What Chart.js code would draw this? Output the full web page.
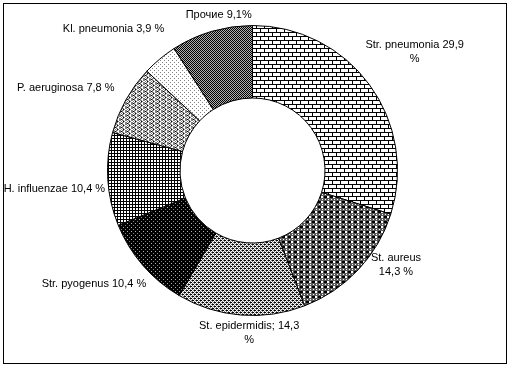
<!DOCTYPE html>
<html>
<head>
<meta charset="utf-8">
<script src="https://cdn.jsdelivr.net/npm/chart.js@4/dist/chart.umd.min.js"></script>
<style>
  html, body { margin: 0; padding: 0; background: #fff; }
  canvas { display: block; }
</style>
</head>
<body>
<canvas id="pieChart" width="510" height="366"></canvas>
<script>
// Chart data
const categories = ['Str. pneumonia', 'St. aureus', 'St. epidermidis', 'Str. pyogenus',
                    'H. influenzae', 'P. aeruginosa', 'Kl. pneumonia', 'Прочие'];
const shares = [29.9, 14.3, 14.3, 10.4, 10.4, 7.8, 3.9, 9.1];
const labelTexts = ['Str. pneumonia 29,9\n%', 'St. aureus\n14,3 %', 'St. epidermidis; 14,3\n%',
                    'Str. pyogenus 10,4 %', 'H. influenzae 10,4 %', 'P. aeruginosa 7,8 %',
                    'Kl. pneumonia 3,9 %', 'Прочие 9,1%'];

// Label placement: angle nudge (deg) and distance in outer radii
const labelLayout = [
    { nudge: 0, dist: 1.386 },
    { nudge: -9.8, dist: 1.186 },
    { nudge: -3.5, dist: 1.124 },
    { nudge: 5.3, dist: 1.345 },
    { nudge: -1.7, dist: 1.372 },
    { nudge: -5.5, dist: 1.407 },
    { nudge: -4.8, dist: 1.366 },
    { nudge: 4.1, dist: 1.097 }
];

// Build a fill pattern from a little pixel map
function makePattern(rows, colors) {
    const c = document.createElement('canvas');
    c.width = rows[0].length;
    c.height = rows.length;
    const ctx = c.getContext('2d');
    rows.forEach((row, y) => {
        for (let x = 0; x < row.length; x++) {
            ctx.fillStyle = colors[row[x]];
            ctx.fillRect(x, y, 1, 1);
        }
    });
    return ctx.createPattern(c, 'repeat');
}

const px = { K: '#000000', w: '#ffffff', g: '#808080', d: '#5a5a5a', l: '#b0b0b0' };

const patterns = [
    // bricks
    makePattern([
        'KKKKKKKK',
        'Kwwwwwww',
        'Kwwwwwww',
        'Kwwwwwww',
        'KKKKKKKK',
        'wwwwKwww',
        'wwwwKwww',
        'wwwwKwww'
    ], px),
    // plaid
    makePattern([
        'dddddd',
        'KKKwwd',
        'KKKwwd',
        'dddddd',
        'dwddwd'
    ], px),
    // fine confetti
    makePattern([
        'KKwg',
        'gwgw',
        'wgKK',
        'gwgw'
    ], px),
    // black with dots
    makePattern([
        'KKKK',
        'KgKK',
        'KKKK',
        'KKKl'
    ], px),
    // small grid
    makePattern([
        'KKK',
        'Kww',
        'Kww'
    ], px),
    // zigzag weave
    makePattern([
        'gwggwg',
        'wgwKgw',
        'gwggwg',
        'gKgwwg'
    ], px),
    // sparse dots
    makePattern([
        'gwww',
        'wwww',
        'wwgw',
        'wwww'
    ], px),
    // dark checker
    makePattern([
        'Kl',
        'lK'
    ], px)
];

// Draws the frame and outside labels
const labelsPlugin = {
    id: 'outsideLabels',
    beforeDraw(chart) {
        const ctx = chart.ctx;
        ctx.save();
        ctx.fillStyle = '#fff';
        ctx.fillRect(0, 0, chart.width, chart.height);
        ctx.strokeStyle = '#000';
        ctx.lineWidth = 1;
        ctx.strokeRect(3.5, 3.5, chart.width - 7, chart.height - 6);
        ctx.restore();
    },
    afterDatasetsDraw(chart) {
        const ctx = chart.ctx;
        const meta = chart.getDatasetMeta(0);
        ctx.save();
        ctx.font = '11px "Liberation Sans", Arial, sans-serif';
        ctx.fillStyle = '#000';
        ctx.textAlign = 'center';
        ctx.textBaseline = 'middle';
        meta.data.forEach((arc, i) => {
            const lay = labelLayout[i];
            const mid = (arc.startAngle + arc.endAngle) / 2 + lay.nudge * Math.PI / 180;
            const r = arc.outerRadius * lay.dist;
            const cx = arc.x + Math.cos(mid) * r;
            const cy = arc.y + Math.sin(mid) * r;
            const lines = labelTexts[i].split('\n');
            const lh = 14;
            lines.forEach((line, j) => {
                ctx.fillText(line, cx, cy + (j - (lines.length - 1) / 2) * lh);
            });
        });
        ctx.restore();
    }
};

const ctx = document.getElementById('pieChart').getContext('2d');
new Chart(ctx, {
    type: 'doughnut',
    data: {
        labels: categories,
        datasets: [{
            data: shares,
            backgroundColor: patterns,
            borderColor: '#000',
            borderWidth: 1
        }]
    },
    options: {
        responsive: false,
        animation: false,
        devicePixelRatio: 1,
        cutout: '50%',
        layout: {
            padding: { left: 107, right: 112, top: 25, bottom: 50 }
        },
        plugins: {
            legend: { display: false },
            tooltip: { enabled: false }
        }
    },
    plugins: [labelsPlugin]
});
</script>
</body>
</html>
